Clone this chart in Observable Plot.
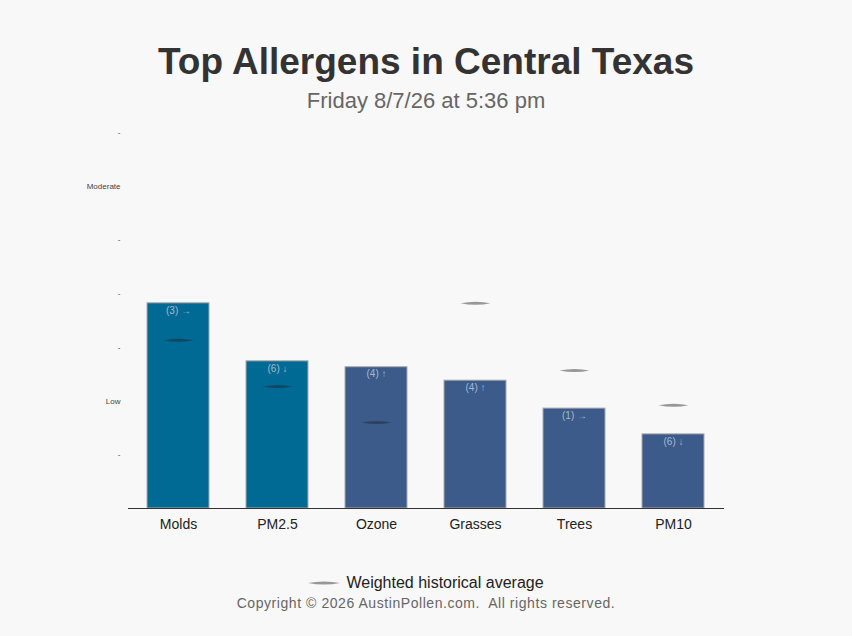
<!DOCTYPE html>
<html>
<head>
<meta charset="utf-8">
<script src="https://cdn.jsdelivr.net/npm/d3@7"></script>
<script src="https://cdn.jsdelivr.net/npm/@observablehq/plot@0.6"></script>
<style>
  html, body { margin: 0; padding: 0; background: #f8f8f8; }
  body { width: 852px; height: 636px; position: relative; overflow: hidden; font-family: "Liberation Sans", Arial, sans-serif; }
  .abs { position: absolute; left: 0; width: 852px; text-align: center; white-space: pre; }
  #title { top: 43px; font-size: 37px; line-height: 38px; font-weight: bold; color: #333; }
  #subtitle { top: 88px; font-size: 22px; line-height: 26px; color: #666; }
  #chart { position: absolute; left: 0; top: 120px; }
  #legend { top: 574px; font-size: 16px; line-height: 18px; color: #222; }
  #legend svg { vertical-align: middle; margin-right: 6px; position: relative; top: -1px; }
  #copy { top: 595px; font-size: 14px; line-height: 16px; color: #666; letter-spacing: 0.56px; }
</style>
</head>
<body>
<div id="title" class="abs">Top Allergens in Central Texas</div>
<div id="subtitle" class="abs">Friday 8/7/26 at 5:36 pm</div>
<div id="chart"></div>
<div id="legend" class="abs"><svg width="32" height="6"><path d="M0,3 Q16,0 32,3 Q16,6 0,3 Z" fill="#222" fill-opacity="0.45"></path></svg>Weighted historical average</div>
<div id="copy" class="abs">Copyright © 2026 AustinPollen.com.  All rights reserved.</div>
<script>
const categories = ["Molds", "PM2.5", "Ozone", "Grasses", "Trees", "PM10"];
const levels = [3.82, 2.74, 2.63, 2.38, 1.86, 1.38];
const averages = [3.13, 2.27, 1.60, 3.82, 2.57, 1.92];
const rankLabels = ["(3) →", "(6) ↓", "(4) ↑", "(4) ↑", "(1) →", "(6) ↓"];
const kinds = ["top", "top", "other", "other", "other", "other"];
const yTickValues = [1, 2, 3, 4, 5, 6, 7];
const yTickLabels = ["-", "Low", "-", "-", "-", "Moderate", "-"];

const data = categories.map((c, i) => ({
  name: c, level: levels[i], avg: averages[i], rank: rankLabels[i], kind: kinds[i]
}));

const lens = {
  draw(ctx, size) {
    const w = Math.sqrt(size / Math.PI);
    const h = w * 0.1;
    ctx.moveTo(-w, 0);
    ctx.quadraticCurveTo(0, -h * 2, w, 0);
    ctx.quadraticCurveTo(0, h * 2, -w, 0);
    ctx.closePath();
  }
};

const chart = Plot.plot({
  width: 852,
  height: 440,
  marginLeft: 128,
  marginRight: 128,
  marginTop: 12,
  marginBottom: 52,
  style: { background: "transparent", fontFamily: "Liberation Sans, Arial, sans-serif" },
  x: { domain: categories, paddingInner: 0.37, paddingOuter: 0.19, label: null },
  y: { domain: [0, 7], label: null },
  color: { domain: ["top", "other"], range: ["#006994", "#3c5a8a"] },
  marks: [
    Plot.barY(data, { x: "name", y: "level", fill: "kind", stroke: "#aaa", strokeWidth: 1 }),
    Plot.text(data, { x: "name", y: "level", text: "rank", dy: 7, fontSize: 10, fill: "#a3bad2" }),
    Plot.dot(data, { x: "name", y: "avg", symbol: lens, r: 15, fill: "#222", fillOpacity: 0.45, stroke: "none" }),
    Plot.ruleY([0], { stroke: "#333", strokeWidth: 1 }),
    Plot.axisX({ tickSize: 0, tickPadding: 11, fontSize: 14, fill: "#222", label: null }),
    Plot.axisY({ ticks: yTickValues, tickFormat: (d) => yTickLabels[yTickValues.indexOf(d)], tickSize: 0, tickPadding: 8, fontSize: 8, fill: "#444", label: null })
  ]
});
document.getElementById("chart").appendChild(chart);
</script>
</body>
</html>
